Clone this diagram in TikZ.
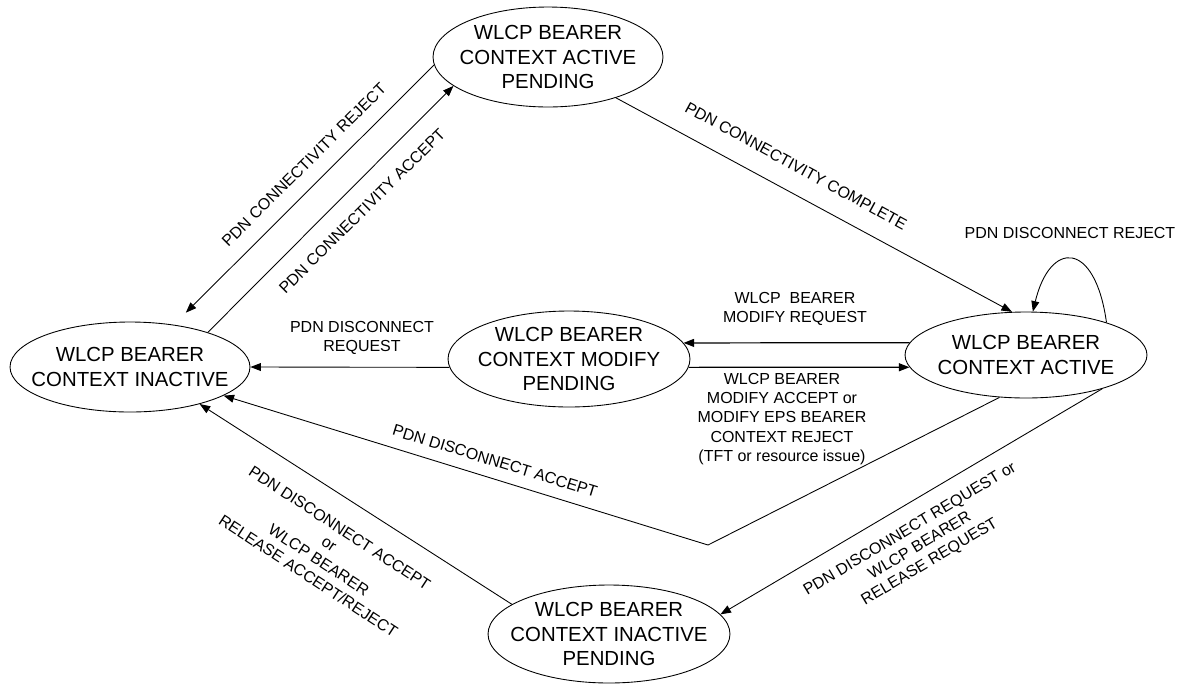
\documentclass[tikz,border=0pt]{standalone}
\usepackage{fontspec}
\setmainfont{Liberation Sans}
\usetikzlibrary{shapes.geometric,arrows.meta}

\begin{document}
\begin{tikzpicture}[x=0.02cm,y=-0.02cm,
		wstate/.style={ellipse, draw, line width=0.5pt, inner sep=0pt},
		stxt/.style={align=center, inner sep=0pt, font=\fontsize{11.6}{14}\selectfont},
		msg/.style={align=center, inner sep=0pt, font=\fontsize{9.1}{10.9}\selectfont},
		tr/.style={line width=0.5pt, -{Triangle[length=6pt,width=4.5pt]}}]
			\useasboundingbox (0,0) rectangle (1187,684);
			\node[wstate, minimum width=4.8cm, minimum height=1.8cm] (inact) at (130,367) {};
			\node[stxt] (inact-t) at (inact) {WLCP BEARER\\CONTEXT INACTIVE};
			\node[wstate, minimum width=4.6cm, minimum height=2cm] (actpend) at (548,57) {};
			\node[stxt] (actpend-t) at (actpend) {WLCP BEARER\\CONTEXT ACTIVE\\PENDING};
			\node[wstate, minimum width=4.84cm, minimum height=1.92cm] (modpend) at (569,359) {};
			\node[stxt] (modpend-t) at (modpend) {WLCP BEARER\\CONTEXT MODIFY\\PENDING};
			\node[wstate, minimum width=4.84cm, minimum height=1.72cm] (active) at (1026,355) {};
			\node[stxt] (active-t) at (active) {WLCP BEARER\\CONTEXT ACTIVE};
			\node[wstate, minimum width=4.84cm, minimum height=1.96cm] (inactpend) at (609,634) {};
			\node[stxt] (inactpend-t) at (inactpend) {WLCP BEARER\\CONTEXT INACTIVE\\PENDING};
			\coordinate (kink) at (708,545);
			\draw[tr, shorten >=0.34cm] (actpend.184.9) -- (inact.44.3);
			\draw[tr] (inact.24.8) -- (actpend.197.1);
			\draw[tr] (actpend.-31.5) -- (active.108);
			\draw[tr] (active.22) .. controls (1095,240) and (1050,240) .. (active.81.5);
			\draw[tr, line width=0.7pt] (active.174.1) -- (modpend.8.7);
			\draw[tr, line width=0.7pt] (modpend.-4.4) -- (active.186.4);
			\draw[tr] (modpend.184.3) -- (inact.east);
			\draw[tr] (active.238.2) -- (kink) -- (inact.-17.2);
			\draw[tr] (active.-24.6) -- (inactpend.10.5);
			\draw[tr] (inactpend.163.7) -- (inact.-28.1);
			\node[msg, rotate=44.8] (l-rej) at (304,165) {PDN CONNECTIVITY REJECT};
			\node[msg, rotate=44.8] (l-acc) at (362,211) {PDN CONNECTIVITY ACCEPT};
			\node[msg, rotate=-28.6] (l-compl) at (796,166) {PDN CONNECTIVITY COMPLETE};
			\node[msg] (l-drej) at (1070,233) {PDN DISCONNECT REJECT};
			\node[msg] (l-modreq) at (795,309) {WLCP\ \ BEARER\\MODIFY REQUEST};
			\node[msg] (l-modacc) at (782,419) {WLCP BEARER\\MODIFY ACCEPT or\\MODIFY EPS BEARER\\CONTEXT REJECT\\(TFT or resource issue)};
			\node[msg] (l-dreq) at (362,338) {PDN DISCONNECT\\REQUEST};
			\node[msg, rotate=-17.1] (l-dacc) at (495,461) {PDN DISCONNECT ACCEPT};
			\node[msg, rotate=30.9] (l-relreq) at (920,546) {PDN DISCONNECT REQUEST or\\WLCP BEARER\\RELEASE REQUEST};
			\node[msg, rotate=-33.2] (l-relacc) at (324,552) {PDN DISCONNECT ACCEPT\\or\\WLCP BEARER\\RELEASE ACCEPT/REJECT};
		\end{tikzpicture}
\end{document}
